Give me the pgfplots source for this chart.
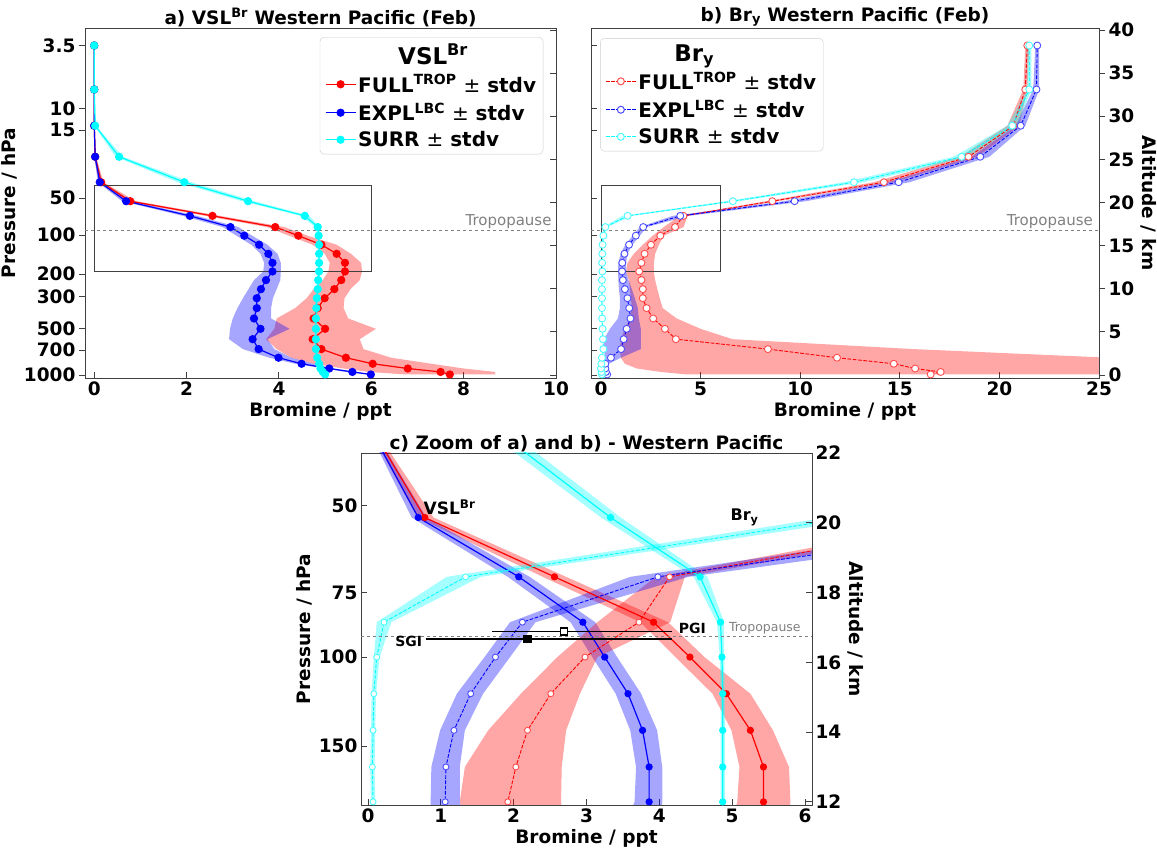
\documentclass[border=0pt]{standalone}
\usepackage{fontspec}
\setmainfont{DejaVu Sans}
\usepackage{pgfplots}
\pgfplotsset{compat=1.18}
\usepackage{pgfplotstable}

\definecolor{aqua}{RGB}{0,255,255}

% VSL^Br profiles (ppt) against altitude z (km); lo/hi = +- stdv envelope
\pgfplotstableread{
z     r     rlo   rhi   b     blo   bhi   c     clo   chi
0.06  7.70  6.75  8.68  5.99  5.90  6.05  5.00  4.97  5.03
0.35  7.50  5.95  8.68  5.59  5.45  5.70  4.95  4.92  4.98
0.75  6.79  5.40  8.00  5.09  4.99  5.19  4.90  4.87  4.93
1.30  6.03  4.75  7.30  4.49  4.35  4.75  4.87  4.84  4.90
2.00  5.45  4.27  6.43  3.99  3.79  4.27  4.83  4.80  4.86
3.00  4.92  3.95  5.83  3.56  3.22  3.90  4.80  4.77  4.83
4.15  4.73  3.72  5.75  3.43  2.92  3.75  4.80  4.77  4.83
5.35  5.00  3.90  6.10  3.60  2.94  4.23  4.80  4.77  4.83
6.55  4.75  3.95  5.50  3.46  3.00  3.83  4.80  4.77  4.83
7.75  4.84  4.35  5.40  3.52  3.10  3.83  4.81  4.78  4.84
8.90  4.99  4.60  5.42  3.52  3.22  3.87  4.82  4.79  4.85
9.95  5.20  4.75  5.55  3.61  3.34  3.95  4.84  4.81  4.87
11.00 5.35  4.95  5.75  3.72  3.46  4.03  4.85  4.82  4.88
12.00 5.43  5.07  5.80  3.86  3.66  4.04  4.87  4.84  4.90
13.00 5.43  5.10  5.78  3.86  3.68  4.04  4.87  4.84  4.90
14.05 5.25  4.99  5.56  3.77  3.60  3.97  4.87  4.84  4.90
15.10 4.92  4.73  5.25  3.57  3.40  3.75  4.87  4.84  4.90
16.15 4.42  4.22  4.62  3.25  3.08  3.42  4.86  4.83  4.89
17.15 3.92  3.74  4.12  2.95  2.78  3.12  4.84  4.79  4.89
18.45 2.56  2.40  2.72  2.07  1.92  2.22  4.56  4.47  4.66
20.15 0.78  0.68  0.90  0.69  0.60  0.80  3.33  3.20  3.47
22.35 0.15  0.10  0.20  0.12  0.08  0.17  1.95  1.80  2.10
25.30 0.02  0.00  0.04  0.02  0.00  0.04  0.54  0.46  0.62
28.90 0.00  0.00  0.01  0.00  0.00  0.01  0.02  0.00  0.04
33.10 0.00  0.00  0.00  0.00  0.00  0.00  0.00  0.00  0.01
38.20 0.00  0.00  0.00  0.00  0.00  0.00  0.00  0.00  0.01
}\vsl

% Br_y profiles
\pgfplotstableread{
z     r     rlo   rhi   b     blo   bhi   c     clo   chi
0.06  16.55 4.30  30.0  0.31  0.25  0.40  0.05  0.02  0.08
0.35  17.05 3.00  30.0  0.25  0.15  0.35  0.03  0.00  0.06
0.75  15.77 1.80  30.0  0.22  0.10  0.35  0.00  0.00  0.03
1.30  14.70 1.20  30.0  0.22  0.10  0.40  0.02  0.00  0.05
2.00  11.85 1.00  25.5  0.50  0.20  1.00  0.05  0.02  0.08
3.00  8.38  0.95  15.7  1.01  0.15  2.00  0.12  0.09  0.15
4.15  3.76  1.00  6.60  1.14  0.15  2.00  0.10  0.07  0.13
5.35  3.21  1.20  5.00  1.29  0.45  2.00  0.08  0.05  0.11
6.55  2.62  1.45  3.80  1.48  0.85  1.90  0.06  0.03  0.09
7.75  2.29  1.55  3.10  1.42  0.95  1.85  0.05  0.02  0.08
8.90  2.10  1.50  2.95  1.33  0.95  1.70  0.05  0.02  0.08
9.95  2.10  1.45  2.83  1.20  0.90  1.55  0.05  0.02  0.08
11.00 2.03  1.40  2.72  1.10  0.87  1.38  0.05  0.02  0.08
12.00 1.92  1.26  2.65  1.06  0.86  1.26  0.07  0.04  0.10
13.00 2.03  1.33  2.66  1.07  0.87  1.26  0.06  0.03  0.09
14.05 2.19  1.65  2.72  1.18  0.99  1.33  0.07  0.04  0.10
15.10 2.51  2.10  2.91  1.41  1.22  1.58  0.08  0.05  0.11
16.15 2.98  2.60  3.15  1.75  1.60  1.95  0.12  0.08  0.16
17.15 3.72  3.15  4.15  2.12  1.95  2.30  0.22  0.12  0.32
18.45 4.14  3.95  4.35  3.98  3.60  4.40  1.34  1.08  1.55
20.15 8.60  8.30  8.90  9.72  9.20  10.30 6.62  6.30  6.95
22.35 14.20 13.70 14.70 14.94 14.40 15.50 12.70 12.20 13.20
25.30 18.45 18.00 18.90 19.04 18.60 19.50 18.10 17.70 18.50
28.90 20.70 20.40 21.00 21.07 20.80 21.30 20.65 20.40 20.90
33.10 21.30 21.20 21.40 21.86 21.70 22.00 21.50 21.40 21.60
38.20 21.40 21.30 21.50 21.90 21.80 22.00 21.50 21.40 21.60
}\bry

% closed envelope outlines: lo going up, then hi coming down
\pgfplotstablesort[sort key=z, sort cmp={float <}]{\vslpoly}{\vsl}
\pgfplotstablesort[sort key=z, sort cmp={float >}]{\vslrev}{\vsl}
\pgfplotstablevertcat{\vslpoly}{\vslrev}
\pgfplotstablesort[sort key=z, sort cmp={float <}]{\brypoly}{\bry}
\pgfplotstablesort[sort key=z, sort cmp={float >}]{\bryrev}{\bry}
\pgfplotstablevertcat{\brypoly}{\bryrev}
\pgfplotstablecreatecol[create col/expr={ifthenelse(\pgfplotstablerow<26,\thisrow{rlo},\thisrow{rhi})}]{rp}{\vslpoly}
\pgfplotstablecreatecol[create col/expr={ifthenelse(\pgfplotstablerow<26,\thisrow{blo},\thisrow{bhi})}]{bp}{\vslpoly}
\pgfplotstablecreatecol[create col/expr={ifthenelse(\pgfplotstablerow<26,\thisrow{clo},\thisrow{chi})}]{cp}{\vslpoly}
\pgfplotstablecreatecol[create col/expr={ifthenelse(\pgfplotstablerow<26,\thisrow{rlo},\thisrow{rhi})}]{rp}{\brypoly}
\pgfplotstablecreatecol[create col/expr={ifthenelse(\pgfplotstablerow<26,\thisrow{blo},\thisrow{bhi})}]{bp}{\brypoly}
\pgfplotstablecreatecol[create col/expr={ifthenelse(\pgfplotstablerow<26,\thisrow{clo},\thisrow{chi})}]{cp}{\brypoly}

\newcommand\fs{\fontsize{18.5}{22}\selectfont\bfseries}

\pgfplotsset{
  prof/.style={scale only axis, clip mode=global,
    axis line style={black!75, line width=0.9pt},
    tick style={black!75, line width=0.9pt},
    major tick length=6pt,
    tick label style={font=\fs},
    label style={font=\fs},
    title style={font=\fs, yshift=-8pt},
    /pgf/number format/assume math mode=true,
    xtick pos=bottom, xtick align=inside,
    legend cell align=left,
    legend image code/.code={\draw[mark repeat=2,mark phase=2,##1] plot coordinates {(0pt,0pt) (15pt,0pt) (30pt,0pt)};},
  },
  leg/.style={draw=black!20, rounded corners=4pt, fill=white, font=\fontsize{20}{23}\selectfont\bfseries,
    row sep=5pt, inner xsep=5pt, inner ysep=4pt},
}

% envelope: polygon table, colour, column
\newcommand\band[3]{%
  \addplot[draw=none, fill=#2, fill opacity=0.35] table[x=#3, y=z] {#1};
}
\newcommand\vslline[3]{%
  \addplot[#2, line width=1.2pt, mark=*, mark size=#3] table[x=#1, y=z] {\vsl};
}
\newcommand\bryline[3]{%
  \addplot[#2, line width=0.9pt, dash pattern=on 3.7pt off 1.6pt, mark=*, mark size=#3,
    mark options={solid, fill=white, draw=#2!70!white}] table[x=#1, y=z] {\bry};
}

\begin{document}
\begin{tikzpicture}

% ---------------- a) VSL
\begin{axis}[prof, at={(85pt,473pt)}, anchor=south west, width=471pt, height=350pt,
  xmin=-0.2, xmax=10, ymin=-0.35, ymax=40.23,
  xtick={0,2,...,10},
  ytick={0,2.9,5.4,9.1,11.7,16.2,20.5,28.4,30.85,38.15},
  yticklabels={1000,700,500,300,200,100,50,15,10,3.5},
  ytick pos=left, ytick align=outside,
  xlabel={Bromine / ppt}, ylabel={Pressure / hPa},
  title={a) VSL\textsuperscript{Br} Western Pacific (Feb)},
  legend style={leg, at={(0.973,0.974)}, anchor=north east}]
\addlegendimage{empty legend}
\addlegendentry{\hspace*{40pt}\fontsize{23}{25}\selectfont VSL\textsuperscript{Br}}
\addlegendimage{red, line width=1.2pt, mark=*, mark size=3.5pt}
\addlegendentry{FULL\textsuperscript{TROP} {\mdseries ±} stdv}
\addlegendimage{blue, line width=1.2pt, mark=*, mark size=3.5pt}
\addlegendentry{EXPL\textsuperscript{LBC} {\mdseries ±} stdv}
\addlegendimage{aqua, line width=1.2pt, mark=*, mark size=3.5pt}
\addlegendentry{SURR {\mdseries ±} stdv}
\band{\vslpoly}{red}{rp}
\band{\vslpoly}{blue}{bp}
\band{\vslpoly}{aqua}{cp}
\vslline{r}{red}{3.5pt}
\vslline{b}{blue}{3.5pt}
\vslline{c}{aqua}{3.5pt}
\addplot[gray, dashed, line width=0.8pt] coordinates {(-0.2,16.75) (10,16.75)};
\node[anchor=south east, gray, font=\fontsize{15}{17}\selectfont, inner sep=2pt] at (axis cs:9.95,16.75) {Tropopause};
\draw[black!75, line width=0.9pt] (axis cs:0,12) rectangle (axis cs:6,22);
\end{axis}
\begin{axis}[prof, at={(85pt,473pt)}, anchor=south west, width=471pt, height=350pt,
  xmin=-0.2, xmax=10, ymin=-0.35, ymax=40.23,
  axis x line=none, axis y line*=right, ytick={0,5,...,40}, yticklabels={},
  ytick align=inside]
\addplot[draw=none] coordinates {(0,0)};
\end{axis}

% ---------------- b) Bry
\begin{axis}[prof, at={(591pt,473pt)}, anchor=south west, width=508pt, height=350pt,
  xmin=-0.5, xmax=25, ymin=-0.35, ymax=40.23,
  xtick={0,5,...,25},
  ytick={0,2.9,5.4,9.1,11.7,16.2,20.5,28.4,30.85,38.15},
  yticklabels={}, ytick pos=left, ytick align=inside,
  xlabel={Bromine / ppt},
  title={b) Br\textsubscript{y} Western Pacific (Feb)},
  legend style={leg, at={(0.018,0.971)}, anchor=north west}]
\addlegendimage{empty legend}
\addlegendentry{\hspace*{36pt}\fontsize{23}{25}\selectfont Br\textsubscript{y}}
\addlegendimage{red, line width=1pt, dash pattern=on 3.7pt off 1.6pt, mark=*, mark size=3.5pt, mark options={solid, fill=white, draw=red!70!white}}
\addlegendentry{FULL\textsuperscript{TROP} {\mdseries ±} stdv}
\addlegendimage{blue, line width=1pt, dash pattern=on 3.7pt off 1.6pt, mark=*, mark size=3.5pt, mark options={solid, fill=white, draw=blue!70!white}}
\addlegendentry{EXPL\textsuperscript{LBC} {\mdseries ±} stdv}
\addlegendimage{aqua, line width=1pt, dash pattern=on 3.7pt off 1.6pt, mark=*, mark size=3.5pt, mark options={solid, fill=white, draw=aqua!70!white}}
\addlegendentry{SURR {\mdseries ±} stdv}
\band{\brypoly}{red}{rp}
\band{\brypoly}{blue}{bp}
\band{\brypoly}{aqua}{cp}
\bryline{r}{red}{3.5pt}
\bryline{b}{blue}{3.5pt}
\bryline{c}{aqua}{3.5pt}
\addplot[gray, dashed, line width=0.8pt] coordinates {(-0.5,16.75) (25,16.75)};
\node[anchor=south east, gray, font=\fontsize{15}{17}\selectfont, inner sep=2pt] at (axis cs:24.8,16.75) {Tropopause};
\draw[black!75, line width=0.9pt] (axis cs:0,12) rectangle (axis cs:6,22);
\end{axis}
\begin{axis}[prof, at={(591pt,473pt)}, anchor=south west, width=508pt, height=350pt,
  xmin=-0.5, xmax=25, ymin=-0.35, ymax=40.23,
  axis x line=none, axis y line*=right, ytick={0,5,...,40},
  ytick align=outside, ylabel={Altitude / km}, ylabel style={rotate=180}]
\addplot[draw=none] coordinates {(0,0)};
\end{axis}

% ---------------- c) zoom
\begin{axis}[prof, at={(361pt,46pt)}, anchor=south west, width=451pt, height=352pt,
  xmin=-0.096, xmax=6.096, ymin=11.91, ymax=22,
  xtick={0,...,6},
  ytick={13.6,16.15,18,20.5}, yticklabels={150,100,75,50},
  ytick pos=left, ytick align=inside,
  xlabel={Bromine / ppt}, ylabel={Pressure / hPa},
  title={c) Zoom of a) and b) - Western Pacific}]
\band{\vslpoly}{red}{rp}
\band{\vslpoly}{blue}{bp}
\band{\vslpoly}{aqua}{cp}
\band{\brypoly}{red}{rp}
\band{\brypoly}{blue}{bp}
\band{\brypoly}{aqua}{cp}
\vslline{r}{red}{3pt}
\vslline{b}{blue}{3pt}
\vslline{c}{aqua}{3pt}
\bryline{r}{red}{3pt}
\bryline{b}{blue}{3pt}
\bryline{c}{aqua}{3pt}
\addplot[gray, dashed, line width=0.8pt] coordinates {(-0.096,16.75) (6.096,16.75)};
\node[anchor=south east, gray, font=\fontsize{12.5}{14}\selectfont, inner sep=2pt] at (axis cs:5.97,16.75) {Tropopause};
\addplot[black, line width=1.3pt, mark=square*, mark size=3.5pt, mark options={fill=white},
  error bars/.cd, x dir=both, x explicit, error mark=none, error bar style={line width=1.3pt}]
  coordinates {(2.69,16.88) += (1.49,0) -= (0.99,0)};
\addplot[black, line width=1.3pt, mark=square*, mark size=3.5pt,
  error bars/.cd, x dir=both, x explicit, error mark=none, error bar style={line width=1.3pt}]
  coordinates {(2.19,16.67) += (1.99,0) -= (1.39,0)};
\node[anchor=west, font=\bfseries\fontsize{14}{16}\selectfont, inner sep=1pt] at (axis cs:4.25,16.97) {PGI};
\node[anchor=east, font=\bfseries\fontsize{14}{16}\selectfont, inner sep=1pt] at (axis cs:0.76,16.6) {SGI};
\node[font=\bfseries\fontsize{17}{19}\selectfont] at (axis cs:1.12,20.45) {VSL\textsuperscript{Br}};
\node[font=\bfseries\fontsize{16}{18}\selectfont] at (axis cs:5.17,20.15) {Br\textsubscript{y}};
\end{axis}
\begin{axis}[prof, at={(361pt,46pt)}, anchor=south west, width=451pt, height=352pt,
  xmin=-0.096, xmax=6.096, ymin=11.91, ymax=22,
  axis x line=none, axis y line*=right, ytick={12,14,...,22},
  ytick align=inside, ylabel={Altitude / km}, ylabel style={rotate=180}]
\addplot[draw=none] coordinates {(0,0)};
\end{axis}
\pgfresetboundingbox
\useasboundingbox (0,0) rectangle (1157pt,851pt);
\end{tikzpicture}
\end{document}
